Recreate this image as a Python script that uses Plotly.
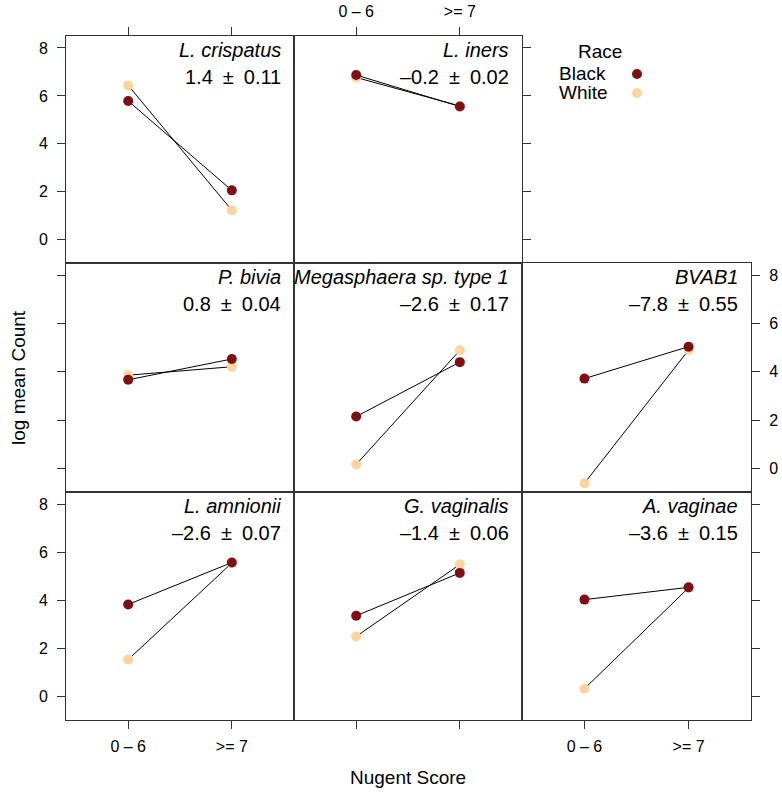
import plotly.graph_objects as go

# ---- data ----
categories = ["0 – 6", ">= 7"]
species = ["L. crispatus", "L. iners", "P. bivia", "Megasphaera sp. type 1", "BVAB1",
           "L. amnionii", "G. vaginalis", "A. vaginae"]
effect_mean = ["1.4", "–0.2", "0.8", "–2.6", "–7.8", "–2.6", "–1.4", "–3.6"]
effect_se = ["0.11", "0.02", "0.04", "0.17", "0.55", "0.07", "0.06", "0.15"]
black_vals = [[5.79, 2.06], [6.87, 5.56], [3.67, 4.53], [2.15, 4.40], [3.72, 5.04],
              [3.83, 5.57], [3.36, 5.14], [4.03, 4.54]]
white_vals = [[6.44, 1.23], [6.77, 5.58], [3.86, 4.21], [0.17, 4.89], [-0.61, 4.90],
              [1.54, 5.55], [2.50, 5.49], [0.33, 4.52]]
y_ticks = [0, 2, 4, 6, 8]
groups = ["Black", "White"]

# ---- layout geometry ----
W, H = 782, 793
col_px = [(66, 294), (294, 522), (522, 751)]
row_px = [(36, 263), (263, 492), (492, 720)]
panel_pos = [(0, 0), (0, 1), (1, 0), (1, 1), (1, 2), (2, 0), (2, 1), (2, 2)]

BLACK_C = "#7f0f12"
WHITE_C = "#fdd49e"
FONT = "Liberation Sans, Arial, Helvetica, sans-serif"
SP = "\u2002"

fig = go.Figure()
layout = dict(width=W, height=H, margin=dict(l=0, r=0, t=0, b=0),
              paper_bgcolor="white", plot_bgcolor="rgba(0,0,0,0)", showlegend=False,
              font=dict(family=FONT, color="black"))
annotations = []
shapes = []

# tick specs: (side, labels?)
xspec = {(0, 0): ("top", False), (0, 1): ("top", True),
         (2, 0): ("bottom", True), (2, 1): ("bottom", False), (2, 2): ("bottom", True)}
yspec = {(0, 0): ("left", True), (0, 1): ("right", False),
         (1, 0): ("left", False), (1, 2): ("right", True),
         (2, 0): ("left", True), (2, 2): ("right", False)}

for i, (r, c) in enumerate(panel_pos):
    n = i + 1
    xa = "x" if n == 1 else f"x{n}"
    ya = "y" if n == 1 else f"y{n}"
    xdom = [col_px[c][0] / W, col_px[c][1] / W]
    ydom = [1 - row_px[r][1] / H, 1 - row_px[r][0] / H]
    xs = xspec.get((r, c))
    ys = yspec.get((r, c))
    xaxis = dict(domain=xdom, range=[0.4, 2.6], anchor=ya, showgrid=False, zeroline=False,
                 showline=True, linecolor="#333333", linewidth=1, mirror=True,
                 tickvals=[1, 2], ticktext=categories, ticks="outside" if xs else "",
                 ticklen=8, tickcolor="#333333", side=xs[0] if xs else "bottom",
                 showticklabels=bool(xs and xs[1]), tickfont=dict(size=16, family=FONT),
                 ticklabelstandoff=4)
    yaxis = dict(domain=ydom, range=[-0.97, 8.5], anchor=xa, showgrid=False, zeroline=False,
                 showline=True, linecolor="#333333", linewidth=1, mirror=True,
                 tickvals=y_ticks, ticks="outside" if ys else "", ticklen=8, tickcolor="#333333",
                 side=ys[0] if ys else "left", showticklabels=bool(ys and ys[1]),
                 tickfont=dict(size=16, family=FONT), ticklabelstandoff=6)
    layout["xaxis" if n == 1 else f"xaxis{n}"] = xaxis
    layout["yaxis" if n == 1 else f"yaxis{n}"] = yaxis

    for g, vals, col in [("White", white_vals[i], WHITE_C), ("Black", black_vals[i], BLACK_C)]:
        fig.add_trace(go.Scatter(x=[1, 2], y=vals, mode="lines+markers", xaxis=xa, yaxis=ya,
                                 line=dict(color="black", width=1),
                                 marker=dict(color=col, size=10, line=dict(width=0)),
                                 name=g, hoverinfo="x+y+name"))
    xr = "x domain" if n == 1 else f"x{n} domain"
    yr = "y domain" if n == 1 else f"y{n} domain"
    pw = col_px[c][1] - col_px[c][0]
    ph = row_px[r][1] - row_px[r][0]
    annotations.append(dict(text=f"<i>{species[i]}</i>", xref=xr, yref=yr,
                            x=1 - 11 / pw, y=1 - 14 / ph, xanchor="right", yanchor="middle",
                            showarrow=False, font=dict(size=20, family=FONT)))
    annotations.append(dict(text=f"{effect_mean[i]}{SP}±{SP}{effect_se[i]}", xref=xr, yref=yr,
                            x=1 - 11 / pw, y=1 - 41 / ph, xanchor="right", yanchor="middle",
                            showarrow=False, font=dict(size=20, family=FONT)))

# legend (manual, top-right empty cell)
annotations.append(dict(text="Race", xref="paper", yref="paper", x=600 / W, y=1 - 52 / H,
                        xanchor="center", yanchor="middle", showarrow=False,
                        font=dict(size=19, family=FONT)))
for k, (g, col) in enumerate([("Black", BLACK_C), ("White", WHITE_C)]):
    yy = 74 + 19 * k
    annotations.append(dict(text=g, xref="paper", yref="paper", x=557 / W, y=1 - yy / H,
                            xanchor="left", yanchor="middle", showarrow=False,
                            font=dict(size=19, family=FONT)))
    shapes.append(dict(type="circle", xref="paper", yref="paper",
                       x0=(637 - 5) / W, x1=(637 + 5) / W, y0=1 - (yy + 5) / H, y1=1 - (yy - 5) / H,
                       fillcolor=col, line=dict(width=0)))

# axis titles
annotations.append(dict(text="log mean Count", xref="paper", yref="paper", x=18 / W, y=1 - 378 / H,
                        textangle=-90, xanchor="center", yanchor="middle", showarrow=False,
                        font=dict(size=19, family=FONT)))
annotations.append(dict(text="Nugent Score", xref="paper", yref="paper", x=408 / W, y=1 - 777 / H,
                        xanchor="center", yanchor="middle", showarrow=False,
                        font=dict(size=19, family=FONT)))

layout["annotations"] = annotations
layout["shapes"] = shapes
fig.update_layout(**layout)
fig.write_html("out.html", config={"displayModeBar": False},
               post_script="document.body.style.margin='0';document.body.style.overflow='hidden';")
